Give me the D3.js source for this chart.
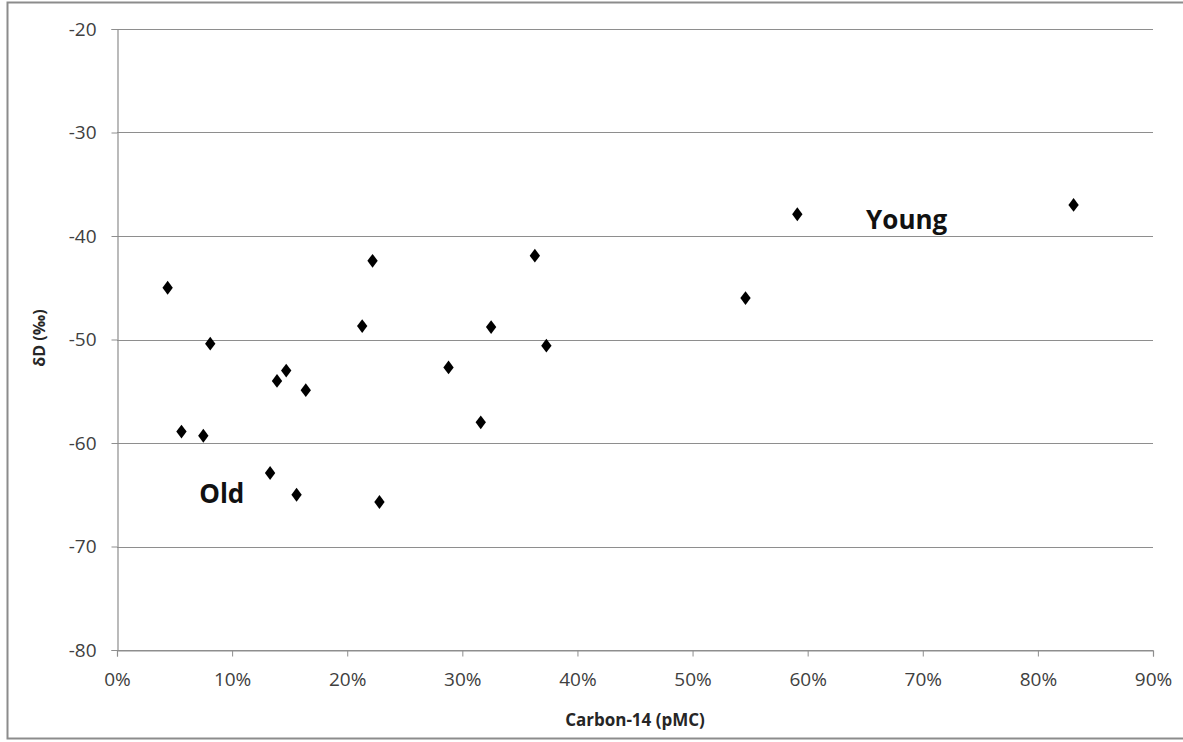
<!DOCTYPE html>
<html>
<head>
<meta charset="utf-8">
<script src="https://cdn.jsdelivr.net/npm/d3@7"></script>
<style>
  body { margin: 0; background: #fff; }
  svg { display: block; font-family: "Open Sans", Lato, sans-serif; }
</style>
</head>
<body>
<div id="vis"></div>
<script>
// data: carbon-14 (fraction) vs dD (permil)
var c14 = [0.044, 0.056, 0.075, 0.081, 0.133, 0.139, 0.147, 0.156, 0.164,
	0.213, 0.222, 0.228, 0.288, 0.316, 0.325, 0.363, 0.373, 0.546, 0.591, 0.831];
var dD = [-45.0, -58.9, -59.3, -50.4, -62.9, -54.0, -53.0, -65.0, -54.9,
	-48.7, -42.4, -65.7, -52.7, -58.0, -48.8, -41.9, -50.6, -46.0, -37.9, -37.0];
var xTicks = [0, 0.1, 0.2, 0.3, 0.4, 0.5, 0.6, 0.7, 0.8, 0.9];
var yTicks = [-80, -70, -60, -50, -40, -30, -20];
var labels = [{text: "Young", x: 0.686, y: -39.3}, {text: "Old", x: 0.091, y: -65.8}];

var width = 1183,
	height = 742;

var svg = d3.select('#vis')
	.append('svg')
	.attr('width', width)
	.attr('height', height);

// outer frame
svg.append('rect')
	.attr('x', 7.5).attr('y', 2.5)
	.attr('width', width).attr('height', height - 6)
	.style('fill', 'none')
	.style('stroke', '#8c8c8c')
	.style('stroke-width', 2);

var x = d3.scaleLinear().domain([0, 0.9]).range([117, 1153]),
	y = d3.scaleLinear().domain([-80, -20]).range([650, 29]);

// gridlines
svg.append('g')
	.selectAll('line')
	.data(yTicks)
	.enter()
	.append('line')
	.attr('x1', x(0)).attr('x2', x(0.9))
	.attr('y1', function(d) { return Math.round(y(d)) + 0.5; })
	.attr('y2', function(d) { return Math.round(y(d)) + 0.5; })
	.style('stroke', '#8e8e8e')
	.style('stroke-width', 1.2);

var yAxis = svg.append('g')
	.attr('transform', 'translate(' + (x(0) + 0.5) + ',0)')
	.call(d3.axisLeft(y).tickValues(yTicks).tickSize(6).tickPadding(15)
		.tickFormat(function(d) { return String(d); }));

var xAxis = svg.append('g')
	.attr('transform', 'translate(0,' + (Math.round(y(-80)) + 0.5) + ')')
	.call(d3.axisBottom(x).tickValues(xTicks).tickSize(6).tickPadding(16).tickFormat(d3.format('.0%')));

[xAxis, yAxis].forEach(function(a) {
	a.select('.domain').style('stroke', '#8e8e8e').style('stroke-width', 1.2);
	a.selectAll('.tick line').style('stroke', '#8e8e8e');
	a.selectAll('.tick text')
		.style('font-size', '19px')
		.style('fill', '#404040')
		.style('font-family', '"Open Sans", Lato, sans-serif');
});

// axis titles
svg.append('text')
	.attr('x', (x(0) + x(0.9)) / 2)
	.attr('y', 726)
	.attr('text-anchor', 'middle')
	.style('font-size', '17px')
	.style('font-weight', 'bold')
	.style('fill', '#262626')
	.text('Carbon-14 (pMC)');

svg.append('text')
	.attr('transform', 'translate(45,' + 338 + ') rotate(-90)')
	.attr('text-anchor', 'middle')
	.style('font-size', '16px')
	.style('font-weight', 'bold')
	.style('fill', '#262626')
	.text('δD (‰)');

// points
var diamond = d3.symbol().type(d3.symbolDiamond).size(55);
svg.append('g')
	.selectAll('path')
	.data(c14)
	.enter()
	.append('path')
	.attr('d', diamond)
	.attr('transform', function(d, i) {
		return 'translate(' + x(d) + ',' + y(dD[i]) + ') scale(1.3,1)';
	})
	.style('fill', '#000');

// annotations
svg.append('g')
	.selectAll('text')
	.data(labels)
	.enter()
	.append('text')
	.attr('x', function(d) { return x(d.x); })
	.attr('y', function(d) { return y(d.y); })
	.attr('text-anchor', 'middle')
	.style('font-size', '26px')
	.style('font-weight', 'bold')
	.style('fill', '#111')
	.text(function(d) { return d.text; });
</script>
</body>
</html>
